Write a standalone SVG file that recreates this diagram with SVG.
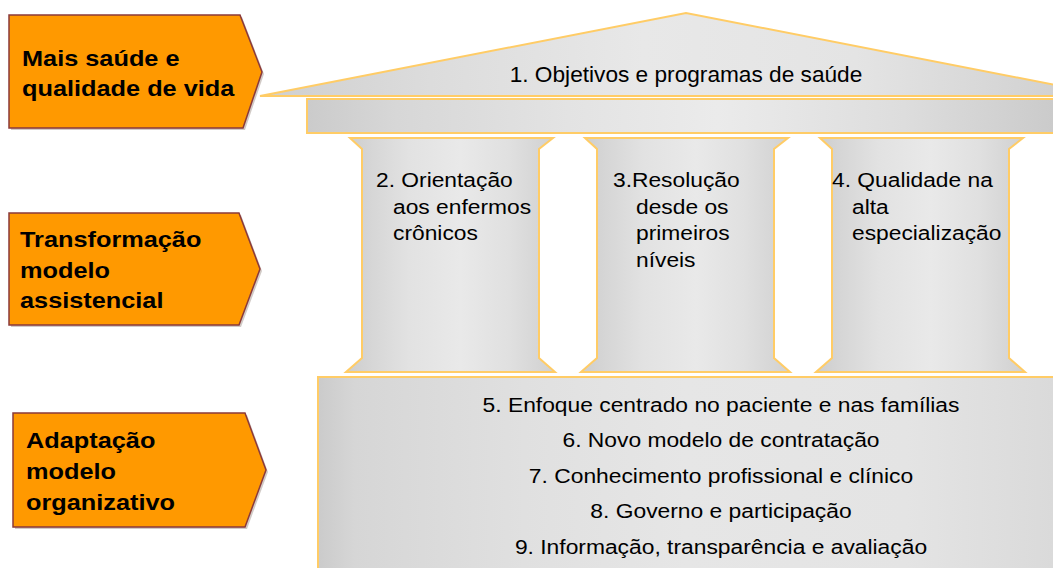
<svg xmlns="http://www.w3.org/2000/svg" width="1053" height="568" viewBox="0 0 1053 568">
<style>
.arrow{fill:#FF9900;stroke:#8B3A3A;stroke-width:1.5}
.shadow{fill:#9a8a80;opacity:0.45}
.lbl{font-family:"Liberation Sans",Arial,sans-serif;font-weight:bold;font-size:22.5px;fill:#000}
.txt{font-family:"Liberation Sans",Arial,sans-serif;font-size:21px;fill:#000}
.big{font-size:22px}
.stone{stroke:#FFCC66;stroke-width:2}
</style>
<defs>
<linearGradient id="gCol" x1="0" y1="0" x2="1" y2="0">
<stop offset="0" stop-color="#cdcdcd"/>
<stop offset="0.12" stop-color="#d6d6d6"/>
<stop offset="0.3" stop-color="#e2e2e2"/>
<stop offset="0.55" stop-color="#e9e9e9"/>
<stop offset="0.78" stop-color="#e0e0e0"/>
<stop offset="1" stop-color="#d0d0d0"/>
</linearGradient>
<linearGradient id="gRoof" x1="260" y1="0" x2="1112" y2="0" gradientUnits="userSpaceOnUse">
<stop offset="0" stop-color="#cfcfcf"/>
<stop offset="0.2" stop-color="#dcdcdc"/>
<stop offset="0.45" stop-color="#e8e8e8"/>
<stop offset="0.7" stop-color="#e4e4e4"/>
<stop offset="1" stop-color="#cccccc"/>
</linearGradient>
<linearGradient id="gArch" x1="307" y1="0" x2="1053" y2="0" gradientUnits="userSpaceOnUse">
<stop offset="0" stop-color="#cbcbcb"/>
<stop offset="0.12" stop-color="#d7d7d7"/>
<stop offset="0.35" stop-color="#e3e3e3"/>
<stop offset="0.55" stop-color="#ebebeb"/>
<stop offset="0.8" stop-color="#dddddd"/>
<stop offset="1" stop-color="#cbcbcb"/>
</linearGradient>
<linearGradient id="gBase" x1="318" y1="0" x2="1053" y2="0" gradientUnits="userSpaceOnUse">
<stop offset="0" stop-color="#cbcbcb"/>
<stop offset="0.05" stop-color="#d6d6d6"/>
<stop offset="0.28" stop-color="#e0e0e0"/>
<stop offset="0.5" stop-color="#e6e6e6"/>
<stop offset="0.8" stop-color="#e4e4e4"/>
<stop offset="1" stop-color="#dadada"/>
</linearGradient>
</defs>
<rect width="1053" height="568" fill="#ffffff"/>

<g id="arrow-1">
<polygon class="shadow" points="11,17 242,17 264,74 245,130 11,130"/>
<polygon class="arrow" points="9,15 240,15 262,72 243,128 9,128"/>
<text class="lbl" transform="matrix(1.125,0,0,1,22,0)" x="0" y="66">Mais saúde e</text>
<text class="lbl" transform="matrix(1.125,0,0,1,22,0)" x="0" y="96">qualidade de vida</text>
</g>
<g id="arrow-2">
<polygon class="shadow" points="11,215 241,215 262,271 241,327 11,327"/>
<polygon class="arrow" points="9,213 239,213 260,269 239,325 9,325"/>
<text class="lbl" transform="matrix(1.125,0,0,1,20,0)" x="0" y="247">Transformação</text>
<text class="lbl" transform="matrix(1.125,0,0,1,20,0)" x="0" y="278">modelo</text>
<text class="lbl" transform="matrix(1.125,0,0,1,20,0)" x="0" y="308">assistencial</text>
</g>
<g id="arrow-3">
<polygon class="shadow" points="15,415 247,415 268,472 247,529 15,529"/>
<polygon class="arrow" points="13,413 245,413 266,470 245,527 13,527"/>
<text class="lbl" transform="matrix(1.125,0,0,1,26,0)" x="0" y="448">Adaptação</text>
<text class="lbl" transform="matrix(1.125,0,0,1,26,0)" x="0" y="479">modelo</text>
<text class="lbl" transform="matrix(1.125,0,0,1,26,0)" x="0" y="510">organizativo</text>
</g>

<g id="roof">
<polygon class="stone" fill="url(#gRoof)" points="260,96 686,13 1112,96"/>
<text class="txt big" transform="matrix(1.03,0,0,1,686,0)" x="0" y="82" text-anchor="middle">1. Objetivos e programas de saúde</text>
</g>
<g id="architrave">
<rect class="stone" fill="url(#gArch)" x="307" y="99" width="760" height="34"/>
</g>

<g id="column-2">
<polygon class="stone" fill="url(#gCol)" points="350,138 553,138 539,149 539,358 555,372 346,372 362,358 362,149"/>
<text class="txt" transform="matrix(1.085,0,0,1,376,0)" x="0" y="187">2. Orientação</text>
<text class="txt" transform="matrix(1.085,0,0,1,393,0)" x="0" y="214">aos enfermos</text>
<text class="txt" transform="matrix(1.085,0,0,1,393,0)" x="0" y="240">crônicos</text>
</g>
<g id="column-3">
<polygon class="stone" fill="url(#gCol)" points="585,138 788,138 774,149 774,358 790,372 581,372 597,358 597,149"/>
<text class="txt" transform="matrix(1.085,0,0,1,613,0)" x="0" y="187">3.Resolução</text>
<text class="txt" transform="matrix(1.085,0,0,1,636,0)" x="0" y="214">desde os</text>
<text class="txt" transform="matrix(1.085,0,0,1,636,0)" x="0" y="240">primeiros</text>
<text class="txt" transform="matrix(1.085,0,0,1,636,0)" x="0" y="267">níveis</text>
</g>
<g id="column-4">
<polygon class="stone" fill="url(#gCol)" points="820,138 1023,138 1009,149 1009,358 1025,372 816,372 832,358 832,149"/>
<text class="txt" transform="matrix(1.085,0,0,1,832,0)" x="0" y="187">4. Qualidade na</text>
<text class="txt" transform="matrix(1.085,0,0,1,852,0)" x="0" y="214">alta</text>
<text class="txt" transform="matrix(1.085,0,0,1,852,0)" x="0" y="240">especialização</text>
</g>

<g id="base">
<rect class="stone" fill="url(#gBase)" x="318" y="377" width="760" height="210"/>
<g class="txt" text-anchor="middle">
<text transform="matrix(1.087,0,0,1,721,0)" x="0" y="412">5. Enfoque centrado no paciente e nas famílias</text>
<text transform="matrix(1.087,0,0,1,721,0)" x="0" y="447">6. Novo modelo de contratação</text>
<text transform="matrix(1.087,0,0,1,721,0)" x="0" y="483">7. Conhecimento profissional e clínico</text>
<text transform="matrix(1.087,0,0,1,721,0)" x="0" y="518">8. Governo e participação</text>
<text transform="matrix(1.087,0,0,1,721,0)" x="0" y="554">9. Informação, transparência e avaliação</text>
</g>
</g>
<g id="connectors"></g>
</svg>
